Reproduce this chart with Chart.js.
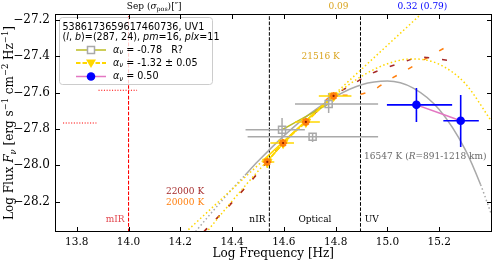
<!DOCTYPE html>
<html><head><meta charset="utf-8">
<script src="https://cdn.jsdelivr.net/npm/chart.js@4/dist/chart.umd.min.js"></script>
<style>html,body{margin:0;padding:0;background:#fff;}canvas{display:block;}</style>
</head><body>
<canvas id="c" width="498" height="265"></canvas>
<script>
// ---------------- data ----------------
const xTicks = [13.8, 14.0, 14.2, 14.4, 14.6, 14.8, 15.0, 15.2];
const yTicks = [-28.2, -28.0, -27.8, -27.6, -27.4, -27.2];
const xRange = [13.716, 15.402];
const yRange = [-28.367, -27.167];

// grey open squares (alpha = -0.78, R?)
const grayX   = [14.593, 14.711, 14.773];
const grayY   = [-27.804, -27.843, -27.662];
const grayXlo = [14.452, 14.460, 14.643];
const grayXhi = [14.681, 14.964, 14.964];
const grayYlo = [-27.871, -27.871, -27.712];
const grayYhi = [-27.739, -27.822, -27.602];
const oliveX  = [14.593, 14.773];
const oliveY  = [-27.804, -27.662];

// gold triangles (alpha = -1.32)
const goldX   = [14.536, 14.597, 14.685, 14.792];
const goldY   = [-27.981, -27.877, -27.761, -27.618];
const goldXlo = [14.517, 14.548, 14.643, 14.735];
const goldXhi = [14.563, 14.639, 14.739, 14.861];
const goldYlo = [-28.015, -27.897, -27.778, -27.636];
const goldYhi = [-27.954, -27.857, -27.744, -27.600];

// blue circles (alpha = 0.50)
const blueX   = [15.112, 15.283];
const blueY   = [-27.667, -27.755];
const blueXlo = [14.998, 15.216];
const blueXhi = [15.250, 15.353];
const blueYlo = [-27.761, -27.899];
const blueYhi = [-27.574, -27.613];

// mIR ranges (dotted red)
const w1X = [13.884, 14.033], w1Y = [-27.587, -27.587];
const w2X = [13.747, 13.876], w2Y = [-27.767, -27.767];

// region boundaries
const bandEdges = [14.0, 14.544, 14.896];

// 16547 K blackbody (grey)
const bbGrayX = [14.2, 14.3, 14.4, 14.45, 14.5, 14.6, 14.7, 14.8, 14.9, 15.0, 15.1, 15.2, 15.3, 15.36, 15.4];
const bbGrayY = [-28.467, -28.295, -28.131, -28.054, -27.978, -27.838, -27.717, -27.620, -27.556, -27.536, -27.575, -27.693, -27.912, -28.107, -28.264];

// 21516 K blackbody (gold dotted)
const bbGoldX = [14.25, 14.3, 14.4, 14.5, 14.52, 14.6, 14.7, 14.8, 14.9, 15.0, 15.1, 15.2, 15.3, 15.4];
const bbGoldY = [-28.458, -28.370, -28.197, -28.032, -28.001, -27.877, -27.735, -27.611, -27.510, -27.441, -27.414, -27.444, -27.549, -27.753];

// power law fit (gold)
const plX = [14.22, 14.52, 14.80, 15.15];
const plY = [-28.369, -27.973, -27.603, -27.141];

// model curves
const m22X = [14.29, 14.334, 14.384, 14.433, 14.483, 14.536, 14.597, 14.685, 14.792, 14.861, 14.926, 14.994, 15.063, 15.128, 15.196, 15.273];
const m22Y = [-28.367, -28.301, -28.229, -28.152, -28.070, -27.981, -27.877, -27.761, -27.618, -27.558, -27.503, -27.464, -27.431, -27.404, -27.415, -27.431];
const m20X = [14.29, 14.334, 14.384, 14.433, 14.483, 14.536, 14.597, 14.685, 14.792, 14.872, 14.945, 15.006, 15.067, 15.132, 15.193, 15.254];
const m20Y = [-28.367, -28.301, -28.229, -28.152, -28.070, -27.981, -27.877, -27.761, -27.618, -27.613, -27.585, -27.530, -27.481, -27.426, -27.376, -27.327];

// ---------------- helpers ----------------
const pts = (xs, ys) => xs.map((x, i) => ({x: x, y: ys[i]}));
const SERIF = '"DejaVu Serif", serif';
const SANS = '"DejaVu Sans", sans-serif';
const GOLD = '#ffd700', GRAY = '#a9a9a9', OLIVE = '#bcbd22', ORANGE = '#ff7f0e', BROWN = '#a52a2a', ORCHID = '#e377c2';

function line(xs, ys, color, w, dash, extra) {
  return Object.assign({data: pts(xs, ys), showLine: true, borderColor: color, backgroundColor: color,
    borderWidth: w, borderDash: dash || [], pointRadius: 0, cubicInterpolationMode: 'monotone', fill: false}, extra || {});
}
const dotted = [1.5, 2.5];
const solidBetween = (lo, hi) => ({segment: {borderDash: c => (c.p0.parsed.x >= lo - 1e-9 && c.p1.parsed.x <= hi + 1e-9) ? [] : dotted}});

function rich(ctx, x, y, parts, align, size, family, color) {
  const items = parts.map(p => {
    const t = p[0], st = p[1] || '';
    const small = st.includes('sub') || st.includes('sup');
    const sz = small ? size * 0.7 : size;
    const font = (st.includes('i') ? 'italic ' : '') + sz + 'px ' + family;
    ctx.font = font;
    return {t, font, w: ctx.measureText(t).width, dy: st.includes('sub') ? size * 0.28 : (st.includes('sup') ? -size * 0.38 : 0)};
  });
  const tot = items.reduce((a, b) => a + b.w, 0);
  let cx = align === 'center' ? x - tot / 2 : (align === 'right' ? x - tot : x);
  ctx.textAlign = 'left'; ctx.textBaseline = 'middle'; ctx.fillStyle = color || '#000';
  for (const it of items) { ctx.font = it.font; ctx.fillText(it.t, cx, y + it.dy); cx += it.w; }
}

function errBars(chart, xs, ys, xlo, xhi, ylo, yhi, color, lw) {
  const {ctx, scales: {x, y}, chartArea: a} = chart;
  ctx.save();
  ctx.beginPath(); ctx.rect(a.left, a.top, a.right - a.left, a.bottom - a.top); ctx.clip();
  ctx.strokeStyle = color; ctx.lineWidth = lw; ctx.setLineDash([]);
  ctx.beginPath();
  for (let i = 0; i < xs.length; i++) {
    const px = x.getPixelForValue(xs[i]), py = y.getPixelForValue(ys[i]);
    ctx.moveTo(x.getPixelForValue(xlo[i]), py); ctx.lineTo(x.getPixelForValue(xhi[i]), py);
    ctx.moveTo(px, y.getPixelForValue(ylo[i])); ctx.lineTo(px, y.getPixelForValue(yhi[i]));
  }
  ctx.stroke(); ctx.restore();
}

// ---------------- datasets ----------------
const datasets = [
  line([bandEdges[0], bandEdges[0]], yRange, 'red', 1.1, [3.7, 1.6]),
  line([bandEdges[1], bandEdges[1]], yRange, '#000', 1, [3.7, 1.6]),
  line([bandEdges[2], bandEdges[2]], yRange, '#000', 1, [3.7, 1.6]),
  line(w1X, w1Y, 'red', 1.1, [1.1, 1.6]),
  line(w2X, w2Y, 'red', 1.1, [1.1, 1.6]),
  line(bbGrayX, bbGrayY, GRAY, 1.5, [], solidBetween(14.45, 15.36)),
  line(m20X, m20Y, ORANGE, 1.5, [5, 13]),
  line(m22X, m22Y, BROWN, 1.5, [5, 13]),
  line(bbGoldX, bbGoldY, GOLD, 1.5, [], solidBetween(14.52, 14.80)),
  line(plX, plY, GOLD, 1.5, [], solidBetween(14.52, 14.80)),
  line(oliveX, oliveY, OLIVE, 1.5, []),
  line(goldX, goldY, GOLD, 2, [5, 2]),
  line(blueX, blueY, ORCHID, 1.5, []),
  {data: pts(grayX, grayY), pointStyle: 'rect', pointRadius: 5, borderColor: GRAY, backgroundColor: 'rgba(0,0,0,0)', pointBorderWidth: 1.5, showLine: false},
  {data: pts(goldX, goldY), pointStyle: 'triangle', rotation: 180, pointRadius: 5.5, borderColor: GOLD, backgroundColor: GOLD, pointBorderWidth: 1, showLine: false},
  {data: pts(goldX, goldY), pointStyle: 'star', pointRadius: 4, borderColor: ORANGE, backgroundColor: ORANGE, pointBorderWidth: 2.2, showLine: false},
  {data: pts(goldX, goldY), pointStyle: 'circle', pointRadius: 1.1, borderColor: '#8b1a00', backgroundColor: '#8b1a00', pointBorderWidth: 0, showLine: false},
  {data: pts(blueX, blueY), pointStyle: 'circle', pointRadius: 4.3, borderColor: 'blue', backgroundColor: 'blue', pointBorderWidth: 0, showLine: false}
];
datasets.forEach((d, i) => { d.order = -i; });
const IDX_GRAY = 13, IDX_GOLD = 14, IDX_BLUE = 17;

// ---------------- plugin ----------------
const decor = {
  id: 'decor',
  beforeDatasetDraw(chart, args) {
    if (args.index === IDX_GOLD) errBars(chart, goldX, goldY, goldXlo, goldXhi, goldYlo, goldYhi, GOLD, 1.5);
    if (args.index === IDX_BLUE) errBars(chart, blueX, blueY, blueXlo, blueXhi, blueYlo, blueYhi, 'blue', 1.6);
  },
  afterDatasetDraw(chart, args) {
    if (args.index === IDX_GRAY) errBars(chart, grayX, grayY, grayXlo, grayXhi, grayYlo, grayYhi, GRAY, 1.5);
  },
  afterDatasetsDraw(chart) {
    const {ctx, scales: {x, y}, chartArea: a} = chart;
    const X = v => x.getPixelForValue(v), Y = v => y.getPixelForValue(v);
    ctx.save();
    // annotations
    rich(ctx, X(14.742), Y(-27.404), [['21516 K']], 'center', 9, SERIF, 'goldenrod');
    rich(ctx, X(14.292), Y(-28.147), [['22000 K']], 'right', 9, SERIF, BROWN);
    rich(ctx, X(14.292), Y(-28.207), [['20000 K']], 'right', 9, SERIF, ORANGE);
    rich(ctx, X(14.910), Y(-27.954), [['16547 K ('], ['R', 'i'], ['=891-1218 km)']], 'left', 9, SERIF, '#696969');
    rich(ctx, X(13.985), Y(-28.301), [['mIR']], 'right', 9, SERIF, '#e34850');
    rich(ctx, X(14.529), Y(-28.301), [['nIR']], 'right', 9, SERIF, '#000');
    rich(ctx, X(14.720), Y(-28.301), [['Optical']], 'center', 9, SERIF, '#000');
    rich(ctx, X(14.912), Y(-28.301), [['UV']], 'left', 9, SERIF, '#000');
    // top labels
    rich(ctx, X(14.099), 6.5, [['Sep ('], ['σ', 'i'], ['pos', 'sub'], [')[″]']], 'center', 9, SERIF, '#000');
    rich(ctx, X(14.811), 6.5, [['0.09']], 'center', 9, SERIF, 'goldenrod');
    rich(ctx, X(15.135), 6.5, [['0.32 (0.79)']], 'center', 9, SERIF, 'blue');

    // legend box
    const lx = 59.5, ly = 17.5, lw = 153, lh = 67;
    ctx.beginPath();
    if (ctx.roundRect) ctx.roundRect(lx, ly, lw, lh, 3); else ctx.rect(lx, ly, lw, lh);
    ctx.fillStyle = 'rgba(255,255,255,0.8)'; ctx.fill();
    ctx.strokeStyle = '#cccccc'; ctx.lineWidth = 1; ctx.setLineDash([]); ctx.stroke();
    rich(ctx, 62.5, 27, [['5386173659617460736, UV1']], 'left', 9.6, SANS, '#000');
    rich(ctx, 62.5, 37.5, [['('], ['l', 'i'], [', '], ['b', 'i'], [')=(287, 24), '], ['pm', 'i'], ['=16, '], ['plx', 'i'], ['=11']], 'left', 9.6, SANS, '#000');
    const rows = [50, 63, 76.5];
    const hx0 = 76, hx1 = 106, mx = 91;
    // row 1
    ctx.strokeStyle = OLIVE; ctx.lineWidth = 1.5; ctx.beginPath(); ctx.moveTo(hx0, rows[0]); ctx.lineTo(hx1, rows[0]); ctx.stroke();
    ctx.fillStyle = '#fff'; ctx.fillRect(mx - 3.5, rows[0] - 3.5, 7, 7);
    ctx.strokeStyle = GRAY; ctx.strokeRect(mx - 3.5, rows[0] - 3.5, 7, 7);
    // row 2
    ctx.strokeStyle = GOLD; ctx.lineWidth = 1.8; ctx.setLineDash([4.5, 2]); ctx.beginPath(); ctx.moveTo(hx0, rows[1]); ctx.lineTo(hx1, rows[1]); ctx.stroke(); ctx.setLineDash([]);
    ctx.fillStyle = GOLD; ctx.beginPath(); ctx.moveTo(mx - 5, rows[1] - 3.5); ctx.lineTo(mx + 5, rows[1] - 3.5); ctx.lineTo(mx, rows[1] + 5); ctx.closePath(); ctx.fill();
    // row 3
    ctx.strokeStyle = ORCHID; ctx.lineWidth = 1.5; ctx.beginPath(); ctx.moveTo(hx0, rows[2]); ctx.lineTo(hx1, rows[2]); ctx.stroke();
    ctx.fillStyle = 'blue'; ctx.beginPath(); ctx.arc(mx, rows[2], 4.3, 0, Math.PI * 2); ctx.fill();
    rich(ctx, 113, rows[0], [['α', 'i'], ['ν', 'isub'], [' = -0.78   R?']], 'left', 9.6, SANS, '#000');
    rich(ctx, 113, rows[1], [['α', 'i'], ['ν', 'isub'], [' = -1.32 ± 0.05']], 'left', 9.6, SANS, '#000');
    rich(ctx, 113, rows[2], [['α', 'i'], ['ν', 'isub'], [' = 0.50']], 'left', 9.6, SANS, '#000');
    ctx.restore();
  },
  afterDraw(chart) {
    const {ctx, scales: {x, y}, chartArea: a} = chart;
    ctx.save();
    ctx.strokeStyle = '#000'; ctx.lineWidth = 1; ctx.setLineDash([]);
    const L = Math.round(a.left) + 0.5, R = Math.round(a.right) - 0.5, T = Math.round(a.top) + 0.5, B = Math.round(a.bottom) - 0.5;
    ctx.strokeRect(L, T, R - L, B - T);
    const tl = 4.5;
    ctx.beginPath();
    xTicks.forEach(v => { const p = Math.round(x.getPixelForValue(v)) + 0.5; ctx.moveTo(p, B); ctx.lineTo(p, B - tl); ctx.moveTo(p, T); ctx.lineTo(p, T + tl); });
    yTicks.forEach(v => { const p = Math.round(y.getPixelForValue(v)) + 0.5; ctx.moveTo(L, p); ctx.lineTo(L + tl, p); ctx.moveTo(R, p); ctx.lineTo(R - tl, p); });
    ctx.stroke();
    // y-axis title
    ctx.translate(10, (a.top + a.bottom) / 2);
    ctx.rotate(-Math.PI / 2);
    rich(ctx, 0, 0, [['Log Flux '], ['F', 'i'], ['ν', 'isub'], [' [erg s'], ['−1', 'sup'], [' cm'], ['−2', 'sup'], [' Hz'], ['−1', 'sup'], [']']], 'center', 12, SERIF, '#000');
    ctx.restore();
  }
};

const fmt = v => Number(v).toFixed(1).replace('-', '\u2212');

new Chart(document.getElementById('c'), {
  type: 'scatter',
  data: {datasets: datasets},
  plugins: [decor],
  options: {
    responsive: false, animation: false, devicePixelRatio: 1, events: [],
    layout: {padding: {top: 14, right: 1, left: 0, bottom: 0}},
    plugins: {legend: {display: false}, tooltip: {enabled: false}},
    scales: {
      x: {
        type: 'linear', position: 'bottom', min: xRange[0], max: xRange[1],
        afterBuildTicks: s => { s.ticks = xTicks.map(v => ({value: v})); },
        afterFit: s => { s.height = 33; },
        grid: {display: false, drawTicks: false}, border: {display: false},
        ticks: {font: {family: SERIF, size: 10.5}, color: '#000', padding: 4, maxRotation: 0, autoSkip: false, callback: fmt},
        title: {display: true, text: 'Log Frequency [Hz]', font: {family: SERIF, size: 12}, color: '#000', padding: {top: 0, bottom: 4}}
      },
      y: {
        type: 'linear', position: 'left', min: yRange[0], max: yRange[1],
        afterBuildTicks: s => { s.ticks = yTicks.map(v => ({value: v})); },
        afterFit: s => { s.width = 55; },
        grid: {display: false, drawTicks: false}, border: {display: false},
        ticks: {font: {family: SERIF, size: 12}, color: '#000', padding: 5, autoSkip: false, callback: fmt}
      }
    }
  }
});
</script>
</body></html>
